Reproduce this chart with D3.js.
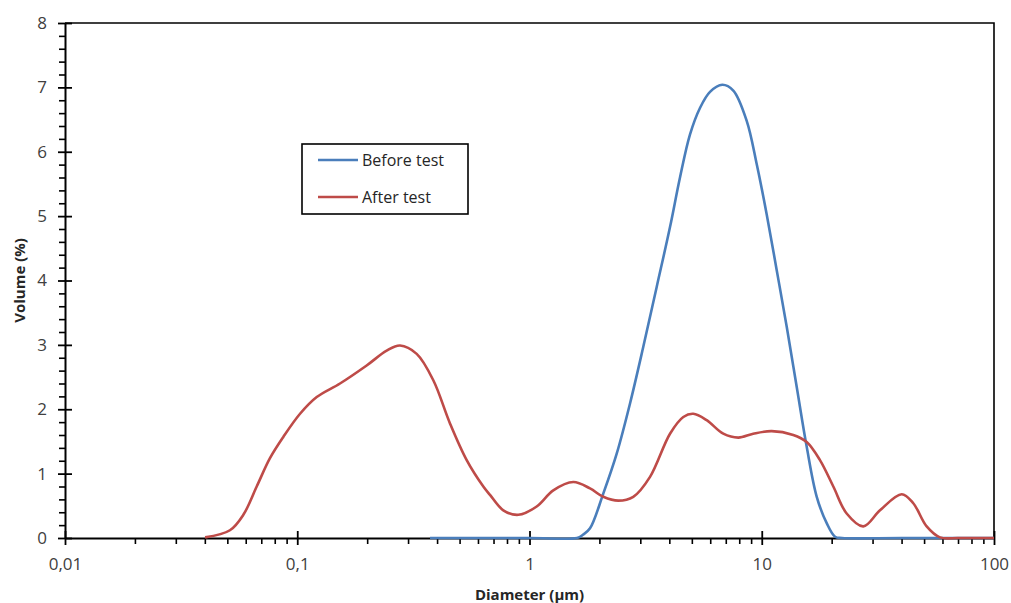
<!DOCTYPE html>
<html>
<head>
<meta charset="utf-8">
<script src="https://cdn.jsdelivr.net/npm/d3@7"></script>
<style>
  body { margin: 0; background: #fff; }
  text { font-family: "Open Sans", "Noto Sans", sans-serif; }
</style>
</head>
<body>
<div id="chart"></div>
<script>
const width = 1011;
const height = 603;

// Before test (blue): diameter (µm) and volume (%)
const beforeD = [0.373, 1.0, 1.602, 1.70, 1.822, 2.078, 2.374, 2.709, 3.090, 3.529, 4.027, 4.446, 4.911, 5.42, 5.987, 6.764, 7.542, 8.614, 9.511, 10.50, 11.60, 12.81, 14.14, 15.61, 17.25, 19.04, 20.68, 22.16, 40, 100];
const beforeV = [0, 0, 0, 0.05, 0.15, 0.69, 1.31, 2.09, 2.97, 3.90, 4.83, 5.60, 6.27, 6.68, 6.93, 7.04, 6.95, 6.48, 5.81, 5.03, 4.16, 3.28, 2.35, 1.42, 0.64, 0.23, 0.02, 0, 0, 0];

// After test (red)
const afterD = [0.0401, 0.0513, 0.0586, 0.0669, 0.0763, 0.0871, 0.1028, 0.1213, 0.1528, 0.199, 0.2427, 0.277, 0.3268, 0.3853, 0.4546, 0.5365, 0.6326, 0.676, 0.7714, 0.895, 1.074, 1.266, 1.544, 1.822, 2.078, 2.412, 2.798, 3.303, 4.027, 4.595, 5.074, 5.794, 6.83, 7.93, 9.19, 11.04, 13.67, 15.61, 17.81, 20.33, 23.21, 27.37, 32.29, 40.06, 44.93, 51.3, 58.55, 70, 85, 100];
const afterV = [0.01, 0.12, 0.36, 0.80, 1.24, 1.57, 1.93, 2.19, 2.40, 2.68, 2.91, 2.99, 2.86, 2.45, 1.78, 1.21, 0.80, 0.67, 0.43, 0.36, 0.49, 0.74, 0.87, 0.77, 0.64, 0.58, 0.64, 0.95, 1.62, 1.88, 1.93, 1.83, 1.62, 1.56, 1.62, 1.66, 1.60, 1.49, 1.21, 0.80, 0.38, 0.18, 0.43, 0.68, 0.54, 0.18, 0.01, 0, 0, 0];

const seriesNames = ["Before test", "After test"];
const xMajor = [0.01, 0.1, 1, 10, 100];
const yMajor = [0, 1, 2, 3, 4, 5, 6, 7, 8];

const colors = ["#4a7ebb", "#be4b48"];

const margin = {top: 23, right: 17, bottom: 65, left: 65};

const x = d3.scaleLog()
    .domain([0.01, 100])
    .range([margin.left, width - margin.right]);

const y = d3.scaleLinear()
    .domain([0, 8])
    .range([height - margin.bottom, margin.top]);

const locale = d3.formatLocale({decimal: ",", thousands: ".", grouping: [3], currency: ["", "€"]});
const fmt = locale.format("~g");

const svg = d3.select("#chart")
    .append("svg")
    .attr("width", width)
    .attr("height", height);

// frame top / right
svg.append("path")
    .attr("d", `M${x(0.01)},${y(8)}H${x(100)}V${y(0)}`)
    .attr("fill", "none")
    .attr("stroke", "#000")
    .attr("stroke-width", 1.6);

// minor ticks
const xMinor = [];
[0.01, 0.1, 1, 10].forEach(b => { for (let k = 2; k <= 9; k++) xMinor.push(b * k); });
const yMinor = d3.range(0, 8.01, 0.2).map(v => +v.toFixed(1)).filter(v => !yMajor.includes(v));

svg.append("g")
    .attr("transform", `translate(0,${y(0)})`)
    .call(d3.axisBottom(x).tickValues(xMinor).tickSize(6).tickFormat(""))
    .call(g => g.select(".domain").remove())
    .call(g => g.selectAll(".tick line").attr("stroke-width", 1.6));

svg.append("g")
    .attr("transform", `translate(${x(0.01)},0)`)
    .call(d3.axisLeft(y).tickValues(yMinor).tickSize(6).tickFormat(""))
    .call(g => g.select(".domain").remove())
    .call(g => g.selectAll(".tick line").attr("stroke-width", 1.6));

// major axes
const xAxis = svg.append("g")
    .attr("transform", `translate(0,${y(0)})`)
    .call(d3.axisBottom(x).tickValues(xMajor).tickFormat(fmt).tickSizeOuter(0).tickPadding(14));
xAxis.select(".domain").attr("stroke-width", 2);
xAxis.selectAll(".tick line").attr("y1", -7).attr("y2", 7).attr("stroke-width", 1.8);
xAxis.selectAll(".tick text").attr("font-size", 17).attr("fill", "#404040")
    .attr("font-family", "'Open Sans', sans-serif");

const yAxis = svg.append("g")
    .attr("transform", `translate(${x(0.01)},0)`)
    .call(d3.axisLeft(y).tickValues(yMajor).tickSizeOuter(0).tickPadding(12));
yAxis.select(".domain").attr("stroke-width", 2);
yAxis.selectAll(".tick line").attr("x1", 7).attr("x2", -7).attr("stroke-width", 1.8);
yAxis.selectAll(".tick text").attr("font-size", 17).attr("fill", "#404040")
    .attr("font-family", "'Open Sans', sans-serif");

// lines
const line = d3.line()
    .x(d => x(d[0]))
    .y(d => Math.min(y(0), y(d[1])))
    .curve(d3.curveCatmullRom.alpha(0.5));

const series = [
    d3.zip(beforeD, beforeV),
    d3.zip(afterD, afterV)
];

svg.append("g")
    .selectAll("path")
    .data(series)
    .join("path")
    .attr("d", line)
    .attr("fill", "none")
    .attr("stroke", (d, i) => colors[i])
    .attr("stroke-width", 2.6)
    .attr("stroke-linejoin", "round");

// axis titles
svg.append("text")
    .attr("x", (x(0.01) + x(100)) / 2)
    .attr("y", 600)
    .attr("text-anchor", "middle")
    .attr("font-size", 15)
    .attr("font-weight", "bold")
    .attr("fill", "#262626")
    .text("Diameter (µm)");

svg.append("text")
    .attr("transform", `translate(25,${(y(0) + y(8)) / 2}) rotate(-90)`)
    .attr("text-anchor", "middle")
    .attr("font-size", 15)
    .attr("font-weight", "bold")
    .attr("fill", "#262626")
    .text("Volume (%)");

// legend
const legend = svg.append("g").attr("transform", "translate(302,144)");
legend.append("rect")
    .attr("width", 166)
    .attr("height", 70)
    .attr("fill", "#fff")
    .attr("stroke", "#000")
    .attr("stroke-width", 1.6);

const item = legend.selectAll("g")
    .data(seriesNames)
    .join("g")
    .attr("transform", (d, i) => `translate(0,${16 + i * 37})`);
item.append("line")
    .attr("x1", 16).attr("x2", 56)
    .attr("stroke", (d, i) => colors[i])
    .attr("stroke-width", 2.6);
item.append("text")
    .attr("x", 60)
    .attr("dy", "0.35em")
    .attr("font-size", 16)
    .attr("fill", "#262626")
    .text(d => d);
</script>
</body>
</html>
